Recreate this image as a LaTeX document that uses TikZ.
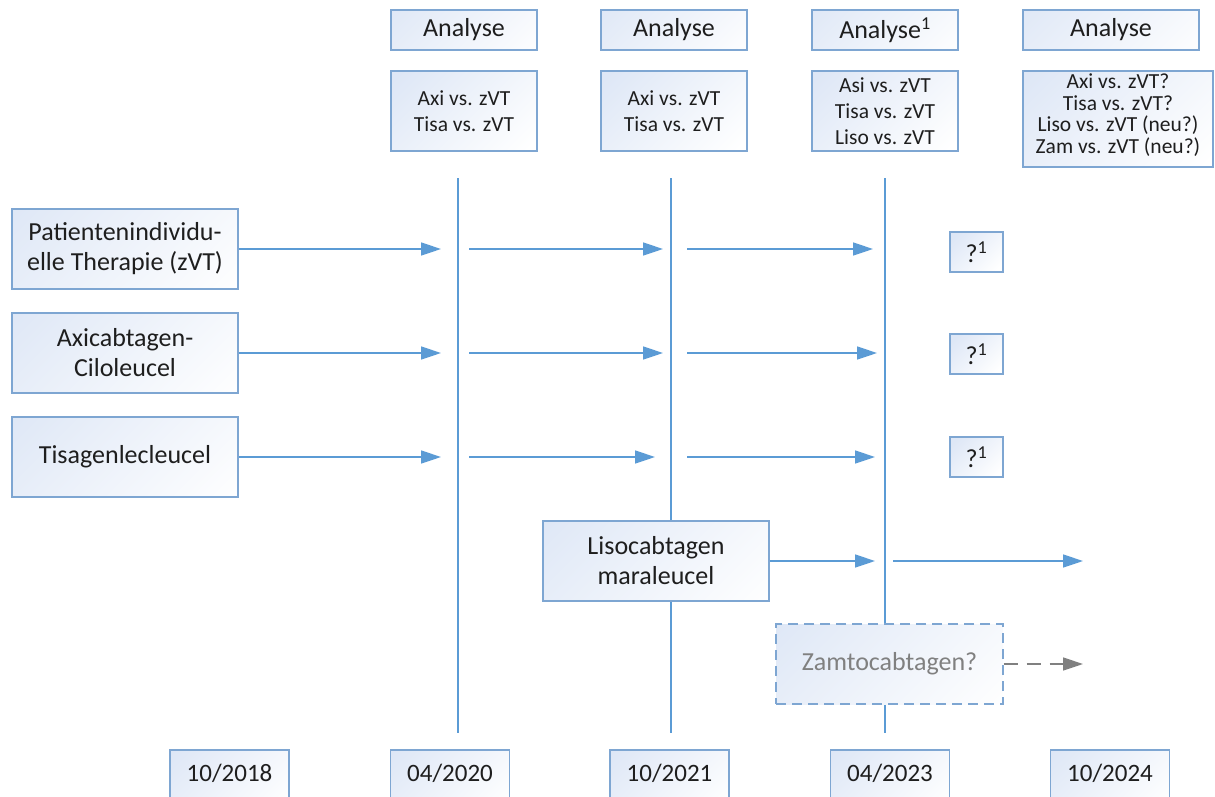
\documentclass[tikz,border=0pt]{standalone}
\usepackage{fontspec}
\setmainfont{Carlito}
\usetikzlibrary{arrows.meta,calc}
\definecolor{edge}{RGB}{126,166,210}
\definecolor{flow}{RGB}{91,155,213}
\definecolor{tint}{RGB}{222,231,246}
\definecolor{ink}{RGB}{30,30,30}
\definecolor{muted}{RGB}{128,128,128}
\tikzset{
  % diagonal gradient: light blue in the upper left corner, white towards lower right
  box/.style={draw=edge, line width=1.4pt, inner sep=0pt, align=center, text=ink,
    path picture={
      \path let \p1=(path picture bounding box.south west),
                \p2=(path picture bounding box.north east),
                \n1={0.5*max(\x2-\x1,\y2-\y1)}
        in [top color=tint, bottom color=white, shading angle=45]
        ({0.5*(\x1+\x2)-\n1*1pt},{0.5*(\y1+\y2)-\n1*1pt}) rectangle
        ({0.5*(\x1+\x2)+\n1*1pt},{0.5*(\y1+\y2)+\n1*1pt});
    }},
  big/.style={font=\fontsize{26}{30}\selectfont},
  small/.style={font=\fontsize{21.5}{26}\selectfont},
  tiny/.style={font=\fontsize{21.5}{21.5}\selectfont},
  datefont/.style={font=\fontsize{25}{29}\selectfont},
  timeline/.style={draw=flow, line width=1.5pt},
  flowarrow/.style={draw=flow, line width=1.6pt, -{Triangle[length=20pt,width=13pt]}},
  ghostarrow/.style={draw=muted, line width=1.6pt, dash pattern=on 14pt off 9pt,
    -{Triangle[length=20pt,width=13pt]}},
}
\begin{document}
\begin{tikzpicture}[x=1pt,y=-1pt]
\useasboundingbox (0,0) rectangle (1215,796);
\clip (0,0) rectangle (1215,796);

% vertical timelines
\coordinate (t1a) at (458,178); \coordinate (t1b) at (458,733);
\coordinate (t2a) at (671,178); \coordinate (t2b) at (671,733);
\coordinate (t3a) at (885,178); \coordinate (t3b) at (885,733);
\draw[timeline] (t1a) -- (t1b);
\draw[timeline] (t2a) -- (t2b);
\draw[timeline] (t3a) -- (t3b);

% analysis headers
\node[box, big, minimum width=146, minimum height=40] (a1) at (464,30) {Analyse};
\node[box, big, minimum width=146, minimum height=40] (a2) at (674,30) {Analyse};
\node[box, big, minimum width=146, minimum height=40] (a3) at (885,30) {Analyse\textsuperscript{1}};
\node[box, big, minimum width=176, minimum height=40] (a4) at (1111,30) {Analyse};

% comparisons per analysis
\node[box, small, minimum width=146, minimum height=80] (c1) at (464,111) {Axi vs. zVT\\Tisa vs. zVT};
\node[box, small, minimum width=146, minimum height=80] (c2) at (674,111) {Axi vs. zVT\\Tisa vs. zVT};
\node[box, small, minimum width=146, minimum height=80] (c3) at (885,111) {Asi vs. zVT\\Tisa vs. zVT\\Liso vs. zVT};
\node[box, minimum width=190, minimum height=96] (c4) at (1118,119) {};
\node[tiny, align=center, text=ink] (c4t) at (1118,115) {Axi vs. zVT?\\Tisa vs. zVT?\\Liso vs. zVT (neu?)\\Zam vs. zVT (neu?)};

% therapies
\node[box, big, minimum width=226, minimum height=80] (zvt) at (125,249) {Patientenindividu-\\elle Therapie (zVT)};
\node[box, big, minimum width=226, minimum height=80] (axi) at (125,353) {Axicabtagen-\\Ciloleucel};
\node[box, big, minimum width=226, minimum height=80] (tisa) at (125,457) {Tisagenlecleucel};
\node[box, big, minimum width=226, minimum height=80] (liso) at (656,561) {Lisocabtagen\\maraleucel};
\node[box, big, minimum width=227, minimum height=80, dash pattern=on 10pt off 6pt,
      text=muted] (zam) at (889.5,664) {Zamtocabtagen?};

% open outcomes
\node[box, big, minimum width=53, minimum height=40] (q1) at (976.5,252) {?\textsuperscript{1}};
\node[box, big, minimum width=53, minimum height=40] (q2) at (976.5,354) {?\textsuperscript{1}};
\node[box, big, minimum width=53, minimum height=40] (q3) at (976.5,457) {?\textsuperscript{1}};

% row 1
\coordinate (r1a) at (441,249); \coordinate (r1b) at (469,249); \coordinate (r1c) at (663,249);
\coordinate (r1d) at (687,249); \coordinate (r1e) at (873,249);
\draw[flowarrow] (zvt.east) -- (r1a);
\draw[flowarrow] (r1b) -- (r1c);
\draw[flowarrow] (r1d) -- (r1e);
% row 2
\coordinate (r2a) at (441,353); \coordinate (r2b) at (469,353); \coordinate (r2c) at (663,353);
\coordinate (r2d) at (687,353); \coordinate (r2e) at (877,353);
\draw[flowarrow] (axi.east) -- (r2a);
\draw[flowarrow] (r2b) -- (r2c);
\draw[flowarrow] (r2d) -- (r2e);
% row 3
\coordinate (r3a) at (441,457); \coordinate (r3b) at (469,457); \coordinate (r3c) at (655,457);
\coordinate (r3d) at (687,457); \coordinate (r3e) at (875,457);
\draw[flowarrow] (tisa.east) -- (r3a);
\draw[flowarrow] (r3b) -- (r3c);
\draw[flowarrow] (r3d) -- (r3e);
% row 4
\coordinate (r4a) at (875,561); \coordinate (r4b) at (893,561); \coordinate (r4c) at (1083,561);
\draw[flowarrow] (liso.east) -- (r4a);
\draw[flowarrow] (r4b) -- (r4c);
% row 5
\coordinate (r5a) at (1083,664);
\draw[ghostarrow] (zam.east) -- (r5a);

% dates
\node[box, minimum width=119, minimum height=56] (d1) at (229.5,778) {};
\node[box, minimum width=119, minimum height=56] (d2) at (450,778) {};
\node[box, minimum width=119, minimum height=56] (d3) at (669.5,778) {};
\node[box, minimum width=119, minimum height=56] (d4) at (890,778) {};
\node[box, minimum width=119, minimum height=56] (d5) at (1110,778) {};
\node[datefont, text=ink] (d1t) at (229.5,773) {10/2018};
\node[datefont, text=ink] (d2t) at (450,773) {04/2020};
\node[datefont, text=ink] (d3t) at (669.5,773) {10/2021};
\node[datefont, text=ink] (d4t) at (890,773) {04/2023};
\node[datefont, text=ink] (d5t) at (1110,773) {10/2024};
\end{tikzpicture}
\end{document}
